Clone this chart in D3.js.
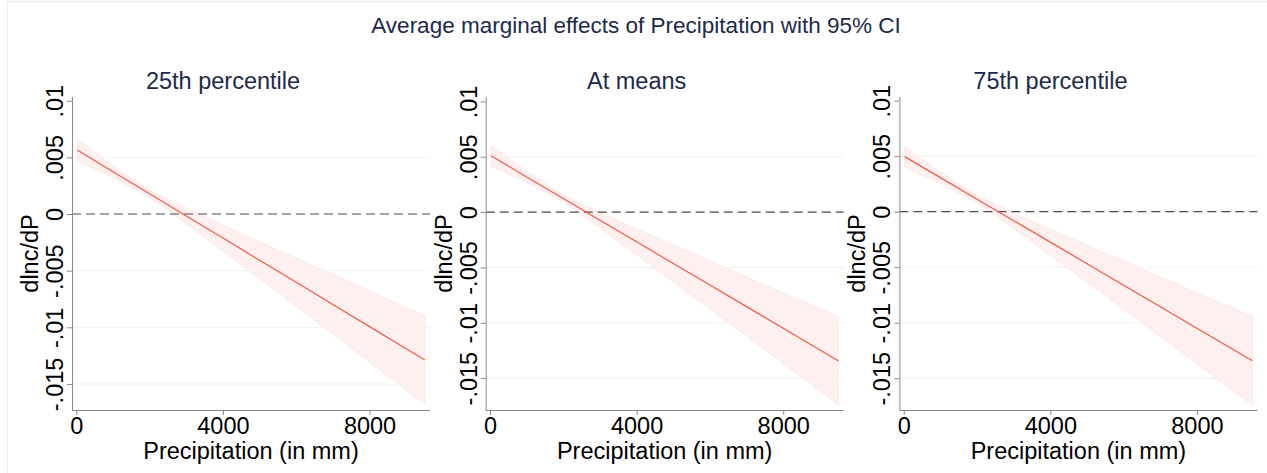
<!DOCTYPE html>
<html>
<head>
<meta charset="utf-8">
<script src="https://cdn.jsdelivr.net/npm/d3@7"></script>
<style>
  html, body { margin: 0; padding: 0; background: #fff; }
  svg text { font-family: "Liberation Sans", Arial, Helvetica, sans-serif; }
</style>
</head>
<body>
<svg id="chart" width="1267" height="473"></svg>
<script>
"use strict";

// precipitation points (mm) where margins were evaluated
var precip = [25, 1000, 2000, 3000, 4000, 5000, 6000, 7000, 8000, 9000, 9510];

// 25th percentile
var est25 = [0.00565, 0.00374, 0.00179, -0.00017, -0.00212, -0.00408, -0.00603, -0.00798, -0.00994, -0.01189, -0.01289];
var lo25  = [0.00470, 0.00323, 0.00147, -0.00084, -0.00327, -0.00572, -0.00817, -0.01062, -0.01308, -0.01553, -0.01679];
var hi25  = [0.00660, 0.00425, 0.00211, 0.00050, -0.00097, -0.00244, -0.00389, -0.00534, -0.00680, -0.00825, -0.00899];

// at means
var estMean = [0.00509, 0.00318, 0.00123, -0.00073, -0.00268, -0.00464, -0.00659, -0.00854, -0.01050, -0.01245, -0.01345];
var loMean  = [0.00417, 0.00268, 0.00091, -0.00141, -0.00385, -0.00631, -0.00877, -0.01123, -0.01370, -0.01616, -0.01743];
var hiMean  = [0.00601, 0.00368, 0.00155, -0.00005, -0.00151, -0.00297, -0.00441, -0.00585, -0.00730, -0.00874, -0.00947];

// 75th percentile
var est75 = [0.00496, 0.00307, 0.00113, -0.00081, -0.00274, -0.00468, -0.00662, -0.00856, -0.01050, -0.01243, -0.01342];
var lo75  = [0.00406, 0.00257, 0.00081, -0.00149, -0.00391, -0.00635, -0.00880, -0.01125, -0.01370, -0.01614, -0.01740];
var hi75  = [0.00588, 0.00357, 0.00145, -0.00013, -0.00157, -0.00301, -0.00444, -0.00587, -0.00730, -0.00872, -0.00944];

var panelTitles = ["25th percentile", "At means", "75th percentile"];
var yTicks = [0.01, 0.005, 0, -0.005, -0.01, -0.015];
var yTickLabels = [".01", ".005", "0", "-.005", "-.01", "-.015"];
var xTicks = [0, 4000, 8000];
var xTickLabels = ["0", "4000", "8000"];

var chartTitle = "Average marginal effects of Precipitation with 95% CI";
var yTitle = "dlnc/dP";
var xTitle = "Precipitation (in mm)";

var panels = [
  { title: panelTitles[0], est: est25, lo: lo25, hi: hi25, yDomain: [-0.0173, 0.01033] },
  { title: panelTitles[1], est: estMean, lo: loMean, hi: hiMean, yDomain: [-0.01788, 0.0104] },
  { title: panelTitles[2], est: est75, lo: lo75, hi: hi75, yDomain: [-0.01786, 0.01033] }
];

var NAVY = "#1e2a4a";
var AXIS_GREY = "#8a8a8a";
var FONT_SIZE = 23.5;
var PANEL_STEP = 413.7;
var PLOT_LEFT = 72;
var PLOT_WIDTH = 358;
var PLOT_TOP = 97;
var PLOT_BOTTOM = 410;

var svg = d3.select("#chart");

svg.append("rect").attr("width", 1267).attr("height", 473).attr("fill", "#fff");

// faint outer frame of the combined graph
svg.append("path")
  .attr("d", "M7.5,473 V1.5 H1267")
  .attr("fill", "none")
  .attr("stroke", "#ececec");

svg.append("text")
  .attr("x", 636)
  .attr("y", 33)
  .attr("text-anchor", "middle")
  .attr("fill", NAVY)
  .style("font-size", "22.5px")
  .text(chartTitle);

panels.forEach(function (panel, p) {
  var left = PLOT_LEFT + p * PANEL_STEP;
  var g = svg.append("g").attr("transform", "translate(" + left + ",0)");

  var x = d3.scaleLinear().domain([-118, 9650]).range([0, PLOT_WIDTH]);
  var y = d3.scaleLinear().domain(panel.yDomain).range([PLOT_BOTTOM, PLOT_TOP]);

  // grid lines (none at 0, which gets the dashed reference line, nor at the top tick)
  g.selectAll("line.grid")
    .data(yTicks.filter(function (t) { return t !== 0 && t < 0.01; }))
    .enter()
    .append("line")
    .attr("class", "grid")
    .attr("x1", 0)
    .attr("x2", PLOT_WIDTH)
    .attr("y1", function (d) { return y(d); })
    .attr("y2", function (d) { return y(d); })
    .attr("stroke", "#edf2f0")
    .attr("stroke-width", 1);

  var rows = precip.map(function (v, i) {
    return { x: v, est: panel.est[i], lo: panel.lo[i], hi: panel.hi[i] };
  });

  g.append("path")
    .datum(rows)
    .attr("d", d3.area()
      .x(function (d) { return x(d.x); })
      .y0(function (d) { return y(d.lo); })
      .y1(function (d) { return y(d.hi); }))
    .attr("fill", "#fdf0ef")
    .attr("stroke", "#fbe3e1")
    .attr("stroke-width", 0.7);

  g.append("line")
    .attr("x1", 0)
    .attr("x2", PLOT_WIDTH)
    .attr("y1", y(0))
    .attr("y2", y(0))
    .attr("stroke", "#4a4a4a")
    .attr("stroke-width", 1.2)
    .attr("stroke-dasharray", "9,5");

  g.append("path")
    .datum(rows)
    .attr("d", d3.line()
      .x(function (d) { return x(d.x); })
      .y(function (d) { return y(d.est); }))
    .attr("fill", "none")
    .attr("stroke", "#f25a4b")
    .attr("stroke-width", 1.2);

  // y axis, labels turned to read bottom-to-top
  var yAxis = g.append("g")
    .call(d3.axisLeft(y)
      .tickValues(yTicks)
      .tickSize(5)
      .tickSizeOuter(0)
      .tickFormat(function (d, i) { return yTickLabels[i]; }));
  yAxis.select(".domain").attr("stroke", AXIS_GREY).attr("d", "M0.5," + PLOT_TOP + "V" + PLOT_BOTTOM);
  yAxis.selectAll(".tick line").attr("stroke", AXIS_GREY);
  yAxis.selectAll(".tick text")
    .attr("x", 0)
    .attr("y", -9)
    .attr("dy", 0)
    .attr("text-anchor", "middle")
    .attr("transform", "rotate(-90)")
    .attr("fill", "#000")
    .style("font-size", FONT_SIZE + "px")
    .style("font-family", "Liberation Sans, Arial, sans-serif");

  var xAxis = g.append("g")
    .attr("transform", "translate(0," + PLOT_BOTTOM + ")")
    .call(d3.axisBottom(x)
      .tickValues(xTicks)
      .tickSize(5)
      .tickSizeOuter(0)
      .tickFormat(function (d, i) { return xTickLabels[i]; }));
  xAxis.select(".domain").attr("stroke", AXIS_GREY).attr("d", "M0,0.5H" + PLOT_WIDTH);
  xAxis.selectAll(".tick line").attr("stroke", AXIS_GREY);
  xAxis.selectAll(".tick text")
    .attr("y", 24)
    .attr("dy", 0)
    .attr("fill", "#000")
    .style("font-size", FONT_SIZE + "px")
    .style("font-family", "Liberation Sans, Arial, sans-serif");

  g.append("text")
    .attr("transform", "translate(-34," + ((PLOT_TOP + PLOT_BOTTOM) / 2) + ") rotate(-90)")
    .attr("text-anchor", "middle")
    .attr("fill", "#000")
    .style("font-size", FONT_SIZE + "px")
    .text(yTitle);

  g.append("text")
    .attr("x", PLOT_WIDTH / 2)
    .attr("y", 459)
    .attr("text-anchor", "middle")
    .attr("fill", "#000")
    .style("font-size", FONT_SIZE + "px")
    .text(xTitle);

  g.append("text")
    .attr("x", 151)
    .attr("y", 89)
    .attr("text-anchor", "middle")
    .attr("fill", NAVY)
    .style("font-size", FONT_SIZE + "px")
    .text(panel.title);
});
</script>
</body>
</html>
